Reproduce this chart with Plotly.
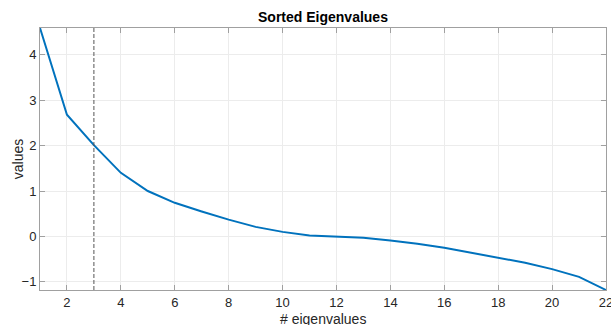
import plotly.graph_objects as go

idx = list(range(1, 23))
eigvals = [4.59, 2.68, 2.01, 1.40, 1.00, 0.74, 0.55, 0.37, 0.21, 0.10, 0.02, 0.00,
           -0.03, -0.09, -0.16, -0.25, -0.36, -0.46, -0.58, -0.72, -0.89, -1.18]
cutoff = 3
x_ticks = [2, 4, 6, 8, 10, 12, 14, 16, 18, 20, 22]
y_ticks = [-1, 0, 1, 2, 3, 4]
y_range = [-1.18, 4.59]

fig = go.Figure()
fig.add_trace(go.Scatter(x=idx, y=eigvals, mode="lines",
                         line=dict(color="#0072BD", width=2), showlegend=False))
fig.add_trace(go.Scatter(x=[cutoff, cutoff], y=y_range, mode="lines",
                         line=dict(color="#555555", width=1, dash="4px,2px"), showlegend=False))

axis_common = dict(showline=True, linecolor="#a0a0a0", linewidth=1, mirror="ticks",
                   ticks="inside", ticklen=5, tickcolor="#a0a0a0",
                   showgrid=True, gridcolor="#ececec", gridwidth=1, zeroline=False,
                   ticklabeloverflow="allow",
                   tickfont=dict(family="Liberation Sans, Arial", size=13, color="#262626"))

title_font = dict(family="Liberation Sans, Arial", size=14, color="#262626")

fig.update_layout(
    width=611, height=325,
    margin=dict(l=40, r=5, t=28, b=35),
    paper_bgcolor="white", plot_bgcolor="white",
    title=dict(text="<b>Sorted Eigenvalues</b>", x=0.5286, xanchor="center", y=0.947, yanchor="middle",
               font=dict(family="Liberation Sans, Arial", size=14, color="#000000")),
    xaxis=dict(range=[1, 22], tickvals=x_ticks, automargin=False, **axis_common),
    yaxis=dict(range=y_range, tickvals=y_ticks, automargin=False, **axis_common),
    annotations=[
        dict(text="# eigenvalues", xref="paper", yref="paper", x=0.5, y=-0.112,
             xanchor="center", yanchor="middle", showarrow=False, font=title_font),
        dict(text="values", xref="paper", yref="paper", x=-0.0385, y=0.5,
             xanchor="center", yanchor="middle", textangle=-90, showarrow=False, font=title_font),
    ],
)

fig.write_html("out.html")
